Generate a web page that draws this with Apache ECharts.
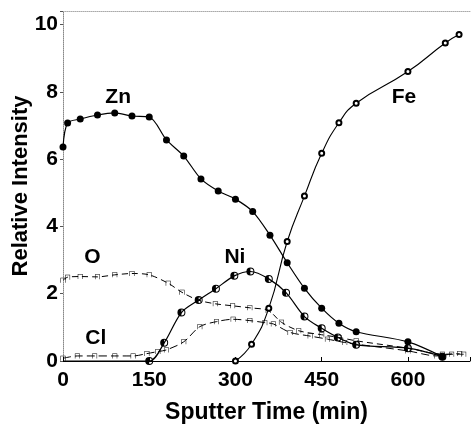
<!DOCTYPE html>
<html><head><meta charset="utf-8">
<script src="https://cdn.jsdelivr.net/npm/echarts@6/dist/echarts.min.js"></script>
<style>html,body{margin:0;padding:0;background:#fff}#c{width:476px;height:429px}</style>
</head><body><div id="c"></div>
<script>
const xTicks = [0,150,300,450,600];
const yTicks = [0,2,4,6,8,10];

const znX = [0,8,30,60,90,120,150,180,210,240,270,300,330,360,390,420,450,480,510,600,660];
const znY = [6.36,7.07,7.19,7.31,7.37,7.28,7.25,6.57,6.09,5.41,5.05,4.81,4.44,3.74,2.92,2.16,1.57,1.12,0.87,0.57,0.13];

const niX = [0,150,176,206,236,266,298,326,358,388,420,450,478,510,600,660];
const niY = [0,0,0.54,1.44,1.81,2.15,2.53,2.66,2.44,2.03,1.32,0.97,0.7,0.48,0.38,0.13];

const oX = [0,8,30,60,90,120,150,183,207,235,265,295,325,357,380,410,450,480,510,600,660,690];
const oY = [2.4,2.49,2.51,2.5,2.56,2.6,2.56,2.31,2.04,1.81,1.7,1.64,1.58,1.5,1.15,0.9,0.78,0.7,0.6,0.38,0.2,0.22];

const clX = [0,25,55,90,122,146,165,180,210,238,267,296,325,351,366,395,430,460,490,510,600,650,676,697];
const clY = [0.08,0.15,0.15,0.15,0.15,0.22,0.28,0.33,0.57,1.02,1.17,1.24,1.2,1.14,1.1,0.85,0.74,0.65,0.55,0.5,0.3,0.15,0.2,0.2];

const feX = [300,328,358,390,420,450,480,510,600,665,689];
const feY = [0,0.5,1.57,3.55,4.9,6.17,7.08,7.66,8.6,9.45,9.7];

const labelText = ['Zn','O','Cl','Ni','Fe'];
const labelX = [96,51,57,299,593];
const labelY = [7.85,3.09,0.68,3.09,7.85];

const zip = (xs, ys) => xs.map((x,i)=>[x, ys[i]]);
const FONT = '"Liberation Sans", Arial, sans-serif';
const halfCircle = 'path://M0,-10 A10,10 0 1,1 0,10 A10,10 0 1,1 0,-10 Z M0,-7.5 A7.5,7.5 0 1,0 0,7.5 A7.5,7.5 0 1,0 0,-7.5 Z M0,-7.5 A7.5,7.5 0 0,0 0,7.5 Z';
const capMark = 'path://M0,10 L0,0 L10,0 L10,10 L9,10 L9,1 L1,1 L1,10 Z';

const chart = echarts.init(document.getElementById('c'), null, {renderer:'canvas'});
const niData = zip(niX, niY).map((p,i)=> i===0 ? {value:p, symbol:'none'} : p);

chart.setOption({
  animation:false,
  backgroundColor:'#fff',
  grid:{left:63, right:6, top:11, bottom:68, show:false, containLabel:false, outerBoundsMode:'none'},
  xAxis:[{
    type:'value', min:0, max:708, interval:150,
    name:'Sputter Time (min)', nameLocation:'middle', nameGap:40,
    nameTextStyle:{fontFamily:FONT, fontWeight:'bold', fontSize:23, color:'#000'},
    axisLine:{show:true, lineStyle:{color:'#000', width:1}},
    axisTick:{show:true, inside:true, length:4, lineStyle:{color:'#000'}},
    axisLabel:{fontFamily:FONT, fontWeight:'bold', fontSize:21, color:'#000', margin:9,
      formatter:v => xTicks.includes(v) ? String(v) : ''},
    splitLine:{show:false}
  },{
    type:'value', position:'top', min:0, max:708,
    axisLine:{show:true, lineStyle:{color:'#aaa', width:1, type:'dotted'}},
    axisTick:{show:false}, axisLabel:{show:false}, splitLine:{show:false}
  }],
  yAxis:{
    type:'value', min:0, max:10.4, interval:2,
    name:'Relative Intensity', nameLocation:'middle', nameGap:31, nameMoveOverlap:false,
    nameTextStyle:{fontFamily:FONT, fontWeight:'bold', fontSize:22, color:'#000'},
    axisLine:{show:true, lineStyle:{color:'#888', width:1, type:'dotted'}},
    axisTick:{show:true, length:3, lineStyle:{color:'#555'}},
    axisLabel:{fontFamily:FONT, fontWeight:'bold', fontSize:21, color:'#000', margin:5,
      formatter:v => yTicks.includes(v) ? String(v) : ''},
    splitLine:{show:false}
  },
  series:[
    {name:'Zn', type:'line', data:zip(znX, znY), smooth:0.3, symbol:'circle', symbolSize:7,
      itemStyle:{color:'#000'}, lineStyle:{color:'#000', width:1.2}},
    {name:'Ni', type:'line', data:niData, smooth:0.3, symbol:halfCircle, symbolSize:8,
      itemStyle:{color:'#000'}, lineStyle:{color:'#000', width:1.2}},
    {name:'O', type:'line', data:zip(oX, oY), smooth:0.3, symbol:capMark, symbolSize:5,
      itemStyle:{color:'#000'}, lineStyle:{color:'#000', width:1, type:[6,4]}},
    {name:'Cl', type:'line', data:zip(clX, clY), smooth:0.3, symbol:capMark, symbolSize:5,
      itemStyle:{color:'#000'}, lineStyle:{color:'#000', width:1, type:[8,4]}},
    {name:'Fe', type:'line', data:zip(feX, feY), smooth:0.5, symbol:'emptyCircle', symbolSize:5,
      itemStyle:{color:'#000', borderColor:'#000'}, lineStyle:{color:'#000', width:1.1}}
  ]
});

chart.setOption({
  graphic: labelText.map((t,i)=>{
    const p = chart.convertToPixel({xAxisIndex:0, yAxisIndex:0}, [labelX[i], labelY[i]]);
    return {type:'text', x:p[0], y:p[1], silent:true,
      style:{text:t, fill:'#000', font:'bold 21px "Liberation Sans", Arial, sans-serif',
        textAlign:'center', textVerticalAlign:'middle'}};
  })
});
</script>
</body></html>
